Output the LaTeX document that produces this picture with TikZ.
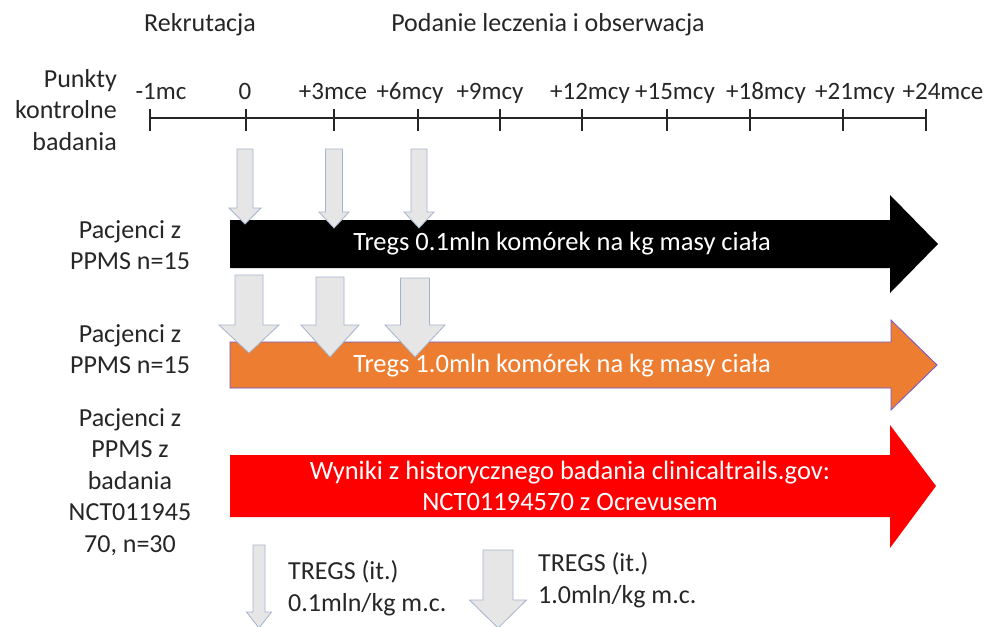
\documentclass[tikz,border=0pt]{standalone}
\usepackage{fontspec}
\setmainfont{Carlito}
\definecolor{orng}{HTML}{ED7D31}
\definecolor{orngedge}{HTML}{7058D0}
\definecolor{gfill}{HTML}{E7E6E6}
\definecolor{gedge}{HTML}{A3B3CC}
\definecolor{txt}{HTML}{262626}
\newcommand\garrow[7]{% cx, top, half shaft, head base, half head, tip, linewidth
  \filldraw[fill=gfill,draw=gedge,line width=#7]
    (#1-#3,#2) -- (#1+#3,#2) -- (#1+#3,#4) -- (#1+#5,#4) -- (#1,#6)
    -- (#1-#5,#4) -- (#1-#3,#4) -- cycle;}
\tikzset{
  lbl/.style={font=\fontsize{26}{31.5}\selectfont, text=txt, inner sep=0pt, align=center},
  tlbl/.style={font=\fontsize{25}{30}\selectfont, text=txt, inner sep=0pt, anchor=base},
  wlbl/.style={font=\fontsize{26.5}{31}\selectfont, text=white, inner sep=0pt, align=center},
  tick/.style={line width=1.6pt, draw=txt},
}
\begin{document}
\begin{tikzpicture}[x=1pt,y=-1pt]
\useasboundingbox (0,0) rectangle (992,626);
% headers
\node[lbl] (rek) at (200,25) {Rekrutacja};
\node[lbl] (pod) at (548,25) {Podanie leczenia i obserwacja};
\node[lbl, anchor=east, align=right] (pkt) at (117,110) {Punkty\\kontrolne\\badania};
% timeline
\coordinate (t0) at (150,118);
\coordinate (t9) at (926,118);
\draw[tick] (t0) -- (t9);
\foreach \x/\l/\lx [count=\i] in {150/-1mc/161, 246/0/245, 334/+3mce/333, 418/+6mcy/410, 500/+9mcy/490, 582/+12mcy/590, 667/+15mcy/675, 750/+18mcy/766, 843/+21mcy/855, 926/+24mce/943}{
  \draw[tick] (\x,109) -- (\x,131);
  \node[tlbl] (tl\i) at (\lx,99) {\l};
}
% big arrows
\fill[black] (230,220) -- (890,220) -- (890,195) -- (938,244) -- (890,293) -- (890,268) -- (230,268) -- cycle;
\node[wlbl] (a1) at (562,244) {Tregs 0.1mln komórek na kg masy ciała};
\filldraw[fill=orng, draw=orngedge, line width=0.8pt] (230,342) -- (891,342) -- (891,320) -- (937,365) -- (891,410) -- (891,388) -- (230,388) -- cycle;
\node[wlbl] (a2) at (562,366) {Tregs 1.0mln komórek na kg masy ciała};
\fill[red] (230,455) -- (890,455) -- (890,425) -- (936,486) -- (890,548) -- (890,517) -- (230,517) -- cycle;
\node[wlbl] (a3) at (570,486) {Wyniki z historycznego badania clinicaltrails.gov:\\NCT01194570 z Ocrevusem};
% thin grey arrows
\garrow{245}{149}{8}{208}{16}{224}{0.8pt}
\garrow{334}{149}{8.5}{212}{15}{228}{0.8pt}
\garrow{419}{149}{8}{212}{15}{228}{0.8pt}
% thick grey arrows
\garrow{249}{275}{14}{325}{30}{353}{0.8pt}
\garrow{330}{277}{14}{325}{29}{357}{0.8pt}
\garrow{415}{278}{14.5}{325}{30}{357}{0.8pt}
% left labels
\node[lbl] (p1) at (130,245) {Pacjenci z\\PPMS n=15};
\node[lbl] (p2) at (130,349) {Pacjenci z\\PPMS n=15};
\node[lbl] (p3) at (130,482) {Pacjenci z\\PPMS z\\badania\\NCT011945\\70, n=30};
% legend
\garrow{259}{545}{6}{612}{12.5}{628}{0.8pt}
\node[lbl, anchor=west, align=left] (l1) at (288,588) {TREGS (it.)\\0.1mln/kg m.c.};
\garrow{498}{550}{15}{600}{28.5}{628}{0.8pt}
\node[lbl, anchor=west, align=left] (l2) at (538,580) {TREGS (it.)\\1.0mln/kg m.c.};
\end{tikzpicture}
\end{document}
